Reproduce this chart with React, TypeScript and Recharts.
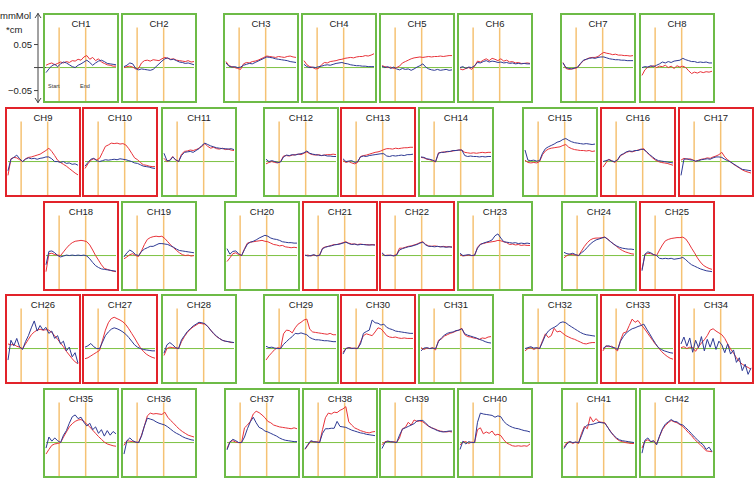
import { LineChart, Line, XAxis, YAxis, ReferenceLine } from 'recharts'

// time index of each sample, stimulus start / end marks
const TIME = [0, 1, 2, 3, 4, 5, 6, 7, 8, 9, 10, 11, 12, 13, 14, 15, 16, 17, 18, 19, 20, 21, 22, 23, 24]
const START_T = 4.5
const END_T = 13.6

// values in 0.01 mmMol*cm
const CH1_RED = [0.5, 0.8, 1.0, 0.6, 0.9, 1.2, 1.0, 1.3, 1.1, 1.5, 1.4, 1.8, 1.6, 2.3, 2.6, 1.8, 2.2, 1.5, 1.9, 1.2, 0.9, 0.6, 0.5, 0.3, 0.3]
const CH1_BLUE = [-1.1, -0.3, 0.4, 0.7, 0.2, 0.8, 1.2, 1.0, 0.6, 0.2, 0.0, 0.5, 0.8, 1.2, 1.6, 1.1, 0.5, 1.0, 1.4, 1.6, 1.3, 0.9, 0.8, 0.7, 0.6]
const CH2_RED = [0.0, 0.2, 0.3, 0.1, -0.3, -0.2, 1.0, 1.5, 1.6, 1.4, 1.7, 1.6, 1.5, 1.9, 2.2, 2.0, 1.8, 1.9, 1.6, 1.5, 1.4, 1.3, 1.5, 1.2, 1.3]
const CH2_BLUE = [0.2, 0.5, 1.0, 0.8, -0.2, -0.5, -0.3, -0.4, -0.5, -0.6, -0.4, 0.2, 0.8, 1.4, 1.9, 2.1, 1.7, 1.8, 1.5, 1.2, 1.1, 0.9, 1.0, 0.8, 0.6]
const CH3_RED = [1.3, 0.4, 0.2, 0.0, -0.2, -0.4, 0.8, 1.1, 1.0, 1.3, 1.4, 1.6, 1.9, 2.2, 2.5, 2.4, 2.3, 2.2, 2.4, 2.3, 2.2, 2.4, 2.5, 2.3, 2.2]
const CH3_BLUE = [1.0, 0.3, 0.1, 0.2, 0.0, 0.1, 0.5, 0.7, 0.9, 0.8, 1.1, 1.4, 1.7, 2.0, 2.3, 2.2, 2.1, 1.9, 1.8, 1.7, 1.6, 1.5, 1.3, 1.2, 1.1]
const CH4_RED = [1.5, 0.6, 0.2, 0.0, -0.3, -0.2, 0.6, 1.1, 1.0, 1.3, 1.4, 1.5, 1.7, 1.8, 2.0, 2.1, 2.2, 2.1, 2.3, 2.4, 2.4, 2.6, 2.5, 2.7, 3.0]
const CH4_BLUE = [0.7, 0.2, 0.0, 0.1, 0.0, 0.2, 0.3, 0.5, 0.6, 0.5, 0.7, 0.9, 1.0, 1.1, 0.9, 0.8, 0.6, 0.5, 0.4, 0.4, 0.3, 0.3, 0.2, 0.2, 0.2]
const CH5_RED = [0.4, 0.2, 0.0, 0.1, -0.2, 0.0, 0.3, 1.0, 1.3, 1.6, 1.9, 2.1, 2.2, 2.3, 2.2, 2.3, 2.4, 2.3, 2.4, 2.4, 2.5, 2.4, 2.5, 2.6, 2.6]
const CH5_BLUE = [0.3, 0.0, 0.2, -0.2, 0.1, -0.3, -0.5, -0.2, -0.4, -0.3, -0.6, -0.3, 0.1, 0.4, 0.8, 0.1, -0.3, -0.5, -0.6, -0.4, -0.6, -0.5, -0.4, -0.6, -0.5]
const CH6_RED = [-0.3, -0.5, -0.2, 0.0, -0.4, 0.3, 1.4, 1.2, 1.6, 1.9, 1.5, 2.0, 1.8, 1.5, 1.9, 1.4, 1.6, 1.2, 1.3, 1.0, 1.1, 0.9, 0.9, 1.0, 0.9]
const CH6_BLUE = [0.0, 0.2, -0.2, 0.1, 0.0, 0.4, 1.1, 1.0, 1.3, 1.5, 1.2, 1.4, 1.3, 1.1, 1.2, 1.0, 1.1, 0.9, 1.0, 0.8, 0.9, 0.8, 0.9, 0.8, 0.8]
const CH7_RED = [1.1, -0.2, -0.4, -0.3, -0.2, 0.0, 0.8, 1.5, 1.8, 2.1, 2.2, 2.2, 2.4, 2.9, 3.3, 3.1, 3.0, 2.8, 2.9, 2.7, 2.7, 2.6, 2.6, 2.5, 2.6]
const CH7_BLUE = [1.0, 0.0, -0.2, -0.3, -0.1, 0.1, 0.9, 1.6, 1.8, 2.0, 2.1, 2.0, 2.2, 2.3, 2.3, 2.1, 1.9, 1.8, 1.7, 1.7, 1.6, 1.6, 1.5, 1.5, 1.5]
const CH8_RED = [-1.7, -0.5, 0.1, 0.2, 0.4, 0.0, 0.3, 0.2, 0.5, 0.0, 0.3, -0.2, 0.4, 0.1, 0.3, 0.0, -0.7, -1.3, -1.0, -1.2, -0.9, -1.1, -0.9, -1.0, -0.8]
const CH8_BLUE = [0.0, 0.2, 0.1, 0.4, 0.2, 0.5, 0.8, 1.2, 1.0, 1.3, 1.1, 1.4, 1.5, 1.6, 2.0, 1.7, 1.5, 1.3, 1.3, 1.1, 1.2, 1.1, 1.2, 1.0, 1.0]
const CH9_RED = [-3.0, 0.6, 0.9, 0.8, 0.4, 0.0, 0.6, 0.9, 1.0, 1.2, 1.4, 1.6, 2.0, 2.4, 2.9, 2.2, 1.3, 0.3, -0.2, -0.6, -1.0, -1.5, -2.0, -2.5, -2.9]
const CH9_BLUE = [-2.0, 0.5, 0.9, 1.4, 0.6, 0.0, 0.5, 0.8, 0.6, 0.7, 0.5, 0.7, 0.8, 1.0, 1.0, 0.6, 0.0, 0.0, -0.2, 0.0, -0.4, -0.3, -0.6, -0.5, -0.8]
const CH10_RED = [-1.5, -0.5, 0.3, 0.6, 0.4, 0.7, 2.0, 3.3, 3.6, 4.0, 3.9, 4.0, 3.8, 3.9, 3.6, 2.8, 1.8, 0.8, 0.4, -0.2, -0.7, -0.8, -1.0, -1.1, -1.1]
const CH10_BLUE = [-1.0, -0.2, 0.5, 0.7, 0.2, 0.0, 0.2, 0.4, 0.3, 0.4, 0.5, 0.4, 0.6, 0.5, 0.4, 0.2, 0.0, -0.3, -0.4, -0.7, -1.0, -1.1, -1.2, -1.4, -1.5]
const CH11_RED = [0.7, 0.0, 0.3, 1.1, 0.3, 0.0, 1.6, 2.2, 2.3, 2.5, 2.4, 2.6, 2.9, 3.3, 3.9, 3.3, 2.9, 3.1, 2.8, 2.7, 2.9, 2.6, 2.7, 2.5, 2.4]
const CH11_BLUE = [1.8, 0.2, 0.2, 1.0, 0.4, 0.0, 1.3, 2.0, 2.1, 2.2, 2.0, 2.4, 2.8, 3.5, 4.0, 3.7, 3.4, 3.2, 3.0, 2.9, 2.8, 2.8, 2.7, 2.8, 2.6]
const CH12_RED = [-0.5, -0.2, 0.0, -0.2, -0.3, 0.0, 1.2, 1.3, 1.2, 1.4, 1.5, 1.6, 1.5, 1.8, 2.1, 1.7, 1.5, 1.4, 1.5, 1.3, 1.4, 1.5, 1.5, 1.6, 1.5]
const CH12_BLUE = [0.5, 0.0, 0.2, 0.0, -0.2, -0.1, 1.0, 1.4, 1.3, 1.5, 1.4, 1.6, 1.7, 1.9, 2.3, 1.8, 1.6, 1.5, 1.4, 1.3, 1.4, 1.2, 1.2, 1.1, 1.1]
const CH13_RED = [0.2, -0.2, 0.0, -0.3, -0.5, -0.2, 1.1, 1.3, 1.4, 1.6, 1.8, 2.0, 2.1, 2.3, 2.6, 2.8, 2.8, 2.7, 2.9, 2.8, 2.9, 3.0, 3.0, 3.1, 3.1]
const CH13_BLUE = [0.6, 0.0, 0.1, 0.2, -0.2, 0.0, 1.0, 1.2, 1.1, 1.3, 1.4, 1.5, 1.6, 1.7, 1.7, 1.2, 1.1, 1.3, 1.2, 1.3, 1.4, 1.3, 1.5, 1.5, 1.6]
const CH14_RED = [0.9, 0.8, 0.5, 0.4, 0.2, -0.1, 1.9, 2.0, 2.1, 2.1, 2.2, 2.3, 2.4, 2.5, 2.5, 2.0, 1.9, 1.8, 1.9, 1.8, 1.9, 2.0, 1.9, 2.0, 2.0]
const CH14_BLUE = [1.0, 0.9, 0.6, 0.5, 0.3, 0.0, 1.8, 2.0, 2.0, 2.2, 2.2, 2.4, 2.4, 2.5, 2.5, 1.3, 1.1, 1.2, 1.1, 1.1, 1.0, 1.1, 1.0, 1.1, 1.1]
const CH15_RED = [0.3, -0.2, -0.3, -0.2, -0.3, 0.0, 1.5, 2.3, 2.7, 2.9, 3.0, 3.1, 3.2, 3.5, 3.7, 3.1, 2.8, 2.6, 2.5, 2.4, 2.4, 2.3, 2.4, 2.2, 2.3]
const CH15_BLUE = [2.5, 0.3, 0.2, 0.3, 0.1, 0.2, 1.8, 2.8, 3.2, 3.5, 3.8, 4.2, 4.4, 4.8, 5.0, 4.6, 4.3, 4.1, 4.0, 3.9, 3.8, 3.9, 3.8, 3.7, 3.8]
const CH16_RED = [-1.2, -0.3, 0.5, 0.2, -0.2, 0.3, 1.3, 1.6, 2.0, 2.2, 2.1, 2.3, 2.5, 2.6, 2.8, 2.0, 1.4, 0.8, 0.3, 0.0, -0.2, -0.3, -0.4, -0.6, -0.8]
const CH16_BLUE = [0.0, 0.2, 0.4, 0.1, 0.0, 0.4, 1.4, 1.7, 2.1, 2.3, 2.2, 2.4, 2.4, 2.7, 2.6, 2.1, 1.5, 1.0, 0.5, 0.2, 0.1, 0.0, -0.1, -0.2, -0.3]
const CH17_RED = [0.3, 0.7, 0.5, 0.6, 0.4, 0.0, 0.3, 0.5, 0.6, 0.8, 0.7, 1.0, 1.2, 1.5, 2.0, 1.0, 0.4, -0.1, -0.6, -1.0, -1.4, -1.8, -2.1, -2.3, -2.5]
const CH17_BLUE = [-3.0, 0.5, 0.6, 0.4, 0.3, 0.1, 0.2, 0.4, 0.5, 0.6, 0.5, 0.8, 1.0, 1.0, 0.9, 0.5, 0.2, -0.1, -0.5, -0.9, -1.3, -1.7, -1.8, -1.9, -2.0]
const CH18_RED = [-3.5, 0.4, 0.5, 0.2, 0.1, 0.0, 0.8, 1.6, 2.3, 2.8, 3.1, 3.2, 3.3, 3.2, 3.0, 2.3, 1.2, 0.0, -1.0, -2.0, -2.8, -3.0, -3.2, -3.4, -3.5]
const CH18_BLUE = [-2.0, 0.9, 1.0, 0.6, 0.0, -0.3, -0.1, 0.1, 0.0, 0.1, 0.0, 0.1, 0.0, 0.1, -0.1, -0.7, -1.5, -2.2, -2.6, -2.9, -3.0, -3.1, -3.2, -3.3, -3.4]
const CH19_RED = [-0.7, -0.3, 0.2, 0.4, 0.0, -0.2, 1.0, 2.4, 3.5, 3.9, 4.1, 4.2, 4.1, 4.2, 3.7, 3.0, 2.3, 1.7, 1.1, 0.6, 0.2, 0.0, 0.1, -0.1, 0.0]
const CH19_BLUE = [-0.3, 0.6, 1.2, 0.8, 0.2, 0.0, 0.9, 1.4, 1.7, 2.0, 2.0, 2.3, 2.6, 2.6, 2.5, 2.4, 2.1, 1.8, 1.4, 1.1, 1.0, 0.9, 0.8, 0.7, 0.6]
const CH20_RED = [-1.3, -0.5, 0.4, 0.6, 0.2, 0.0, 1.5, 2.7, 2.9, 3.0, 3.1, 3.2, 3.3, 3.1, 3.0, 2.7, 2.4, 2.3, 2.1, 2.2, 1.9, 1.8, 1.7, 1.8, 1.7]
const CH20_BLUE = [1.5, 0.3, 0.9, 1.0, 0.4, 0.0, 1.3, 2.5, 2.9, 3.1, 3.4, 3.8, 4.1, 4.4, 4.2, 3.8, 3.6, 3.5, 3.3, 3.0, 2.9, 2.8, 2.8, 2.7, 2.7]
const CH21_RED = [0.0, 0.1, -0.1, 0.1, 0.0, 0.0, 1.6, 1.9, 2.0, 2.2, 2.4, 2.4, 2.6, 2.8, 3.0, 2.7, 2.5, 2.5, 2.4, 2.5, 2.4, 2.4, 2.3, 2.4, 2.3]
const CH21_BLUE = [0.1, -0.1, 0.0, 0.2, -0.1, 0.1, 1.5, 1.8, 2.0, 2.1, 2.3, 2.4, 2.5, 2.7, 2.9, 2.6, 2.4, 2.5, 2.3, 2.4, 2.4, 2.3, 2.3, 2.3, 2.3]
const CH22_RED = [0.4, 0.0, 0.1, 0.0, 0.0, 0.2, 1.6, 1.6, 1.8, 2.0, 2.1, 2.3, 2.5, 2.8, 3.0, 2.4, 2.1, 2.0, 2.1, 2.0, 1.9, 2.0, 1.9, 1.9, 1.9]
const CH22_BLUE = [0.6, 0.0, 0.0, 0.1, -0.1, 0.1, 1.2, 1.5, 1.7, 1.9, 2.0, 2.2, 2.4, 2.7, 2.9, 2.3, 2.0, 2.0, 1.9, 2.0, 1.9, 1.9, 1.8, 1.9, 1.8]
const CH23_RED = [0.2, -0.1, 0.0, 0.1, 0.0, 0.0, 1.8, 2.5, 2.6, 2.8, 2.9, 3.0, 3.1, 3.3, 3.2, 3.0, 2.8, 2.4, 2.5, 2.3, 2.4, 2.2, 2.3, 2.2, 2.2]
const CH23_BLUE = [0.5, 0.0, 0.1, 0.2, 0.0, 0.1, 1.6, 2.4, 2.7, 2.9, 3.1, 3.4, 4.3, 4.7, 3.8, 3.0, 2.9, 2.8, 2.7, 2.8, 2.6, 2.7, 2.6, 2.7, 2.6]
const CH24_RED = [-0.5, 0.0, 0.3, 0.2, 0.1, 0.0, 1.0, 2.0, 2.8, 3.4, 3.7, 3.8, 3.8, 3.9, 4.0, 3.6, 3.0, 2.5, 2.0, 1.5, 1.1, 0.8, 0.6, 0.4, 0.3]
const CH24_BLUE = [0.7, 0.4, 0.3, 0.5, 0.2, 0.0, 0.6, 1.1, 1.8, 2.5, 3.0, 3.4, 3.6, 3.8, 4.0, 3.5, 3.0, 2.5, 2.1, 1.8, 1.6, 1.5, 1.4, 1.4, 1.3]
const CH25_RED = [-3.0, 0.2, 0.5, 0.4, 0.2, 0.0, 1.2, 2.3, 3.2, 3.5, 3.7, 3.8, 3.9, 3.9, 4.0, 3.6, 2.7, 1.6, 0.6, -0.5, -1.4, -2.1, -2.5, -2.8, -3.0]
const CH25_BLUE = [-3.3, 0.3, 0.8, 0.6, 0.2, 0.0, -0.6, -0.7, -0.6, -0.7, -0.6, -0.8, -0.7, -0.6, -0.4, -0.9, -1.5, -2.0, -2.3, -2.6, -2.9, -3.1, -3.3, -3.4, -3.5]
const CH26_RED = [1.0, 0.8, 0.9, 0.5, 0.3, 0.0, 1.0, 2.0, 3.0, 3.6, 4.0, 4.2, 4.0, 4.1, 4.0, 3.5, 2.8, 2.0, 1.2, 0.4, -0.6, -1.4, -2.2, -2.9, -3.3]
const CH26_BLUE = [-2.5, 1.8, 0.6, 2.2, 0.3, -0.2, 1.5, 2.8, 4.5, 6.0, 3.8, 5.0, 4.0, 4.6, 3.3, 3.8, 2.2, 2.8, 1.0, 1.6, -0.5, 0.3, -1.8, -0.9, -3.2]
const CH27_RED = [-2.2, -2.0, -1.6, -1.2, -0.8, -0.4, 1.8, 4.0, 5.6, 6.5, 6.8, 6.5, 6.2, 5.8, 5.2, 4.3, 3.3, 2.3, 1.2, 0.2, -0.6, -1.2, -1.6, -1.9, -2.1]
const CH27_BLUE = [0.3, 0.6, 1.1, 0.4, 0.0, 0.0, 1.4, 2.8, 3.6, 4.2, 4.5, 4.3, 4.0, 3.6, 3.1, 2.4, 1.6, 0.8, 0.3, 0.0, -0.2, -0.3, -0.4, -0.5, -0.5]
const CH28_RED = [-1.5, 0.0, 0.3, 0.2, 0.1, 0.0, 1.5, 2.6, 3.5, 4.2, 4.7, 5.1, 5.5, 5.4, 5.3, 4.8, 4.0, 3.2, 2.6, 2.2, 1.8, 1.6, 1.5, 1.3, 1.3]
const CH28_BLUE = [-1.0, 0.8, 1.3, 0.8, 0.2, 0.0, 1.9, 2.8, 3.7, 4.3, 4.9, 5.3, 5.7, 5.6, 5.4, 4.8, 4.0, 3.3, 2.7, 2.2, 1.8, 1.6, 1.5, 1.4, 1.3]
const CH29_RED = [-2.5, -1.6, -0.9, -0.2, 0.2, 0.0, 3.2, 4.0, 3.9, 3.4, 4.5, 5.3, 5.7, 6.2, 6.4, 4.2, 3.6, 3.5, 3.4, 3.3, 3.2, 3.1, 3.3, 3.0, 3.0]
const CH29_BLUE = [0.5, 0.2, 0.3, 0.1, 0.0, 0.0, 0.9, 1.5, 2.1, 2.6, 3.3, 3.2, 3.4, 3.2, 3.0, 2.4, 2.1, 1.9, 1.9, 1.8, 1.7, 1.7, 1.6, 1.5, 1.5]
const CH30_RED = [-0.8, 0.0, 0.2, 0.1, 0.0, 0.0, 1.4, 2.8, 3.2, 3.0, 2.8, 3.6, 4.5, 4.3, 3.6, 2.8, 2.5, 2.4, 2.5, 2.3, 2.2, 2.3, 2.2, 2.2, 2.2]
const CH30_BLUE = [-1.2, 0.0, 0.2, 0.0, 0.1, 0.0, 1.0, 3.3, 3.7, 4.0, 6.2, 5.6, 5.5, 5.1, 5.3, 4.6, 4.3, 4.1, 3.8, 3.7, 3.6, 3.5, 3.4, 3.3, 3.3]
const CH31_RED = [0.2, -0.2, 0.1, 0.0, 0.2, -0.3, 1.8, 2.1, 2.7, 3.0, 3.3, 3.5, 3.8, 4.0, 4.4, 3.0, 2.6, 2.5, 2.3, 2.2, 2.0, 2.3, 2.2, 2.5, 2.6]
const CH31_BLUE = [-0.5, 0.1, 0.2, 0.0, 0.1, 0.0, 1.5, 2.3, 2.9, 3.3, 3.5, 3.6, 3.9, 4.0, 4.3, 3.2, 2.9, 2.7, 2.5, 2.3, 2.0, 1.8, 1.5, 1.3, 1.2]
const CH32_RED = [-0.5, 0.0, 0.2, -0.2, 0.1, 0.0, 1.7, 3.2, 2.4, 2.8, 4.4, 3.6, 3.8, 3.3, 2.8, 2.5, 2.2, 2.0, 1.7, 1.4, 1.1, 1.0, 1.2, 1.3, 1.3]
const CH32_BLUE = [0.0, 0.2, 0.4, 0.1, 0.2, 0.0, 1.4, 2.9, 3.8, 4.3, 4.6, 5.0, 5.6, 5.8, 5.6, 5.1, 4.7, 4.3, 3.9, 3.5, 3.2, 3.0, 2.9, 2.8, 2.7]
const CH33_RED = [-0.5, 0.6, 0.4, 0.5, 0.0, -0.5, 1.8, 3.4, 3.6, 5.0, 6.4, 5.7, 6.1, 5.2, 4.5, 3.6, 2.7, 1.8, 0.9, 0.2, -0.6, -1.2, -1.7, -2.1, -2.3]
const CH33_BLUE = [0.0, 0.5, 0.6, 0.3, 0.2, -0.2, 1.6, 2.6, 3.4, 3.9, 4.3, 4.5, 4.8, 5.0, 5.3, 4.2, 3.2, 2.1, 1.1, 0.2, -0.2, -0.5, -0.7, -0.9, -1.0]
const CH34_RED = [0.2, 0.4, 0.0, 0.3, 0.2, -0.6, 0.4, 1.2, 1.9, 2.8, 4.0, 4.3, 3.8, 3.4, 3.0, 2.2, 1.0, -0.1, -1.0, -2.0, -2.8, -3.4, -3.8, -4.1, -4.5]
const CH34_BLUE = [1.0, 2.5, 0.5, 2.3, -0.8, 1.8, 0.2, 2.6, -0.5, 2.0, 0.3, 2.2, -0.2, 1.6, 0.8, -0.9, 1.0, -1.2, -0.3, -3.0, -2.0, -4.8, -3.4, -5.6, -4.2]
const CH35_RED = [-2.5, -1.5, -0.6, -0.3, -0.2, 0.0, 1.2, 2.3, 3.4, 4.1, 4.6, 4.9, 5.0, 4.6, 4.0, 3.4, 2.7, 2.0, 1.3, 0.7, 0.1, -0.3, -0.5, -0.7, -0.8]
const CH35_BLUE = [-1.2, 1.2, 0.3, 1.0, 0.4, 0.0, 1.6, 2.6, 4.2, 5.6, 6.0, 5.2, 5.5, 4.4, 3.6, 4.2, 2.8, 3.4, 2.0, 2.8, 1.4, 2.6, 1.6, 2.4, 1.9]
const CH36_RED = [-0.6, 0.4, 0.3, 0.2, 0.1, 0.0, 1.6, 3.6, 5.8, 6.4, 6.2, 6.3, 6.2, 6.1, 6.6, 5.5, 4.8, 4.2, 3.5, 2.9, 2.4, 2.0, 1.6, 1.4, 1.2]
const CH36_BLUE = [-2.5, 0.4, 1.0, 0.4, 0.1, 0.0, 1.4, 3.6, 5.3, 5.1, 4.9, 4.5, 4.2, 4.0, 3.8, 3.4, 2.9, 2.4, 2.0, 1.7, 1.3, 1.0, 0.8, 0.6, 0.5]
const CH37_RED = [-1.3, 0.2, 0.4, 0.1, 0.0, 0.0, 3.2, 3.8, 4.6, 6.2, 6.8, 6.5, 6.0, 5.4, 4.6, 4.3, 3.8, 3.6, 3.4, 3.3, 3.2, 3.1, 3.0, 3.2, 3.0]
const CH37_BLUE = [-1.6, 0.1, 0.7, 0.4, 0.0, 0.0, 1.2, 3.0, 4.5, 5.5, 4.3, 3.3, 3.0, 2.5, 2.3, 2.0, 1.7, 1.4, 1.0, 0.7, 0.5, 0.4, 0.3, 0.2, 0.2]
const CH38_RED = [-1.5, -0.6, 0.3, 0.1, 0.2, 0.0, 2.8, 5.4, 6.4, 6.2, 6.6, 6.5, 7.0, 7.3, 7.8, 4.5, 3.8, 3.2, 2.9, 2.6, 2.4, 2.2, 2.1, 2.3, 2.4]
const CH38_BLUE = [-1.4, -0.4, 0.4, 0.2, 0.1, 0.0, 2.0, 3.0, 3.0, 3.1, 3.1, 4.6, 3.5, 3.4, 3.3, 3.0, 2.7, 2.5, 2.3, 2.1, 2.0, 1.8, 1.7, 1.6, 1.5]
const CH39_RED = [-0.5, 0.2, 0.3, 0.1, 0.2, 0.0, 1.0, 3.0, 3.3, 4.4, 3.8, 4.9, 4.6, 4.7, 4.5, 4.0, 3.5, 3.2, 3.0, 2.7, 2.5, 2.4, 2.3, 2.4, 2.3]
const CH39_BLUE = [-1.3, 0.0, 0.3, 0.2, 0.1, 0.0, 1.6, 2.9, 3.2, 3.5, 3.8, 4.1, 4.7, 4.8, 4.8, 4.2, 3.6, 3.2, 2.9, 2.6, 2.4, 2.3, 2.4, 2.5, 2.5]
const CH40_RED = [-0.5, 0.1, 0.2, -0.2, 0.1, 0.0, 2.8, 3.2, 1.9, 2.3, 2.0, 2.5, 1.6, 1.8, 1.5, 0.6, -0.1, -0.4, -0.7, -0.8, -0.7, -0.8, -0.7, -0.8, -0.3]
const CH40_BLUE = [-1.5, 0.3, -0.3, 0.2, 0.0, 0.0, 4.4, 6.4, 6.2, 6.1, 6.0, 5.9, 5.5, 5.8, 5.6, 4.6, 4.0, 3.6, 3.3, 3.1, 3.0, 2.8, 2.6, 2.5, 2.3]
const CH41_RED = [-1.0, 0.0, 0.2, -0.2, 0.1, -0.2, 2.0, 3.5, 3.0, 5.6, 4.5, 5.2, 4.5, 4.4, 4.3, 3.3, 2.4, 1.5, 0.8, 0.4, 0.2, 0.0, -0.1, -0.2, -0.2]
const CH41_BLUE = [-1.3, -0.3, 0.2, 0.0, 0.1, 0.0, 1.5, 3.2, 3.8, 3.9, 4.0, 4.2, 4.4, 4.3, 4.2, 3.3, 2.3, 1.6, 1.0, 0.6, 0.4, 0.3, 0.2, 0.1, 0.0]
const CH42_RED = [-1.2, 0.3, 0.6, 0.2, 0.3, -0.3, 1.3, 2.8, 3.7, 4.3, 4.8, 4.5, 4.3, 3.9, 3.5, 2.8, 2.1, 1.5, 0.7, 0.1, -0.5, -1.1, -1.8, -1.9, -2.0]
const CH42_BLUE = [-2.3, 0.5, 1.0, 0.2, 0.4, -0.5, 1.4, 3.0, 4.0, 4.5, 5.0, 4.6, 4.5, 4.0, 3.8, 3.2, 2.6, 1.9, 1.2, 0.6, 0.0, -0.5, -1.5, -1.0, -2.0]

const RED_SERIES = [
  CH1_RED, CH2_RED, CH3_RED, CH4_RED, CH5_RED, CH6_RED, CH7_RED, CH8_RED, CH9_RED, CH10_RED,
  CH11_RED, CH12_RED, CH13_RED, CH14_RED, CH15_RED, CH16_RED, CH17_RED, CH18_RED, CH19_RED, CH20_RED,
  CH21_RED, CH22_RED, CH23_RED, CH24_RED, CH25_RED, CH26_RED, CH27_RED, CH28_RED, CH29_RED, CH30_RED,
  CH31_RED, CH32_RED, CH33_RED, CH34_RED, CH35_RED, CH36_RED, CH37_RED, CH38_RED, CH39_RED, CH40_RED,
  CH41_RED, CH42_RED,
]
const BLUE_SERIES = [
  CH1_BLUE, CH2_BLUE, CH3_BLUE, CH4_BLUE, CH5_BLUE, CH6_BLUE, CH7_BLUE, CH8_BLUE, CH9_BLUE, CH10_BLUE,
  CH11_BLUE, CH12_BLUE, CH13_BLUE, CH14_BLUE, CH15_BLUE, CH16_BLUE, CH17_BLUE, CH18_BLUE, CH19_BLUE, CH20_BLUE,
  CH21_BLUE, CH22_BLUE, CH23_BLUE, CH24_BLUE, CH25_BLUE, CH26_BLUE, CH27_BLUE, CH28_BLUE, CH29_BLUE, CH30_BLUE,
  CH31_BLUE, CH32_BLUE, CH33_BLUE, CH34_BLUE, CH35_BLUE, CH36_BLUE, CH37_BLUE, CH38_BLUE, CH39_BLUE, CH40_BLUE,
  CH41_BLUE, CH42_BLUE,
]

// channels outlined in red
const FLAGGED = [9, 10, 13, 16, 17, 18, 21, 22, 25, 26, 27, 30, 33, 34]

// scale axis ticks (0.01 mmMol*cm)
const SCALE_TICKS = [-5, 0, 5]

// panel placement: [left, top] per channel, in page pixels
const LAYOUT = [
  [43, 13], [121, 13], [223, 13], [301, 13], [379, 13], [457, 13], [560, 13], [639, 13],
  [5, 107], [82, 107], [161, 107], [263, 107], [340, 107], [418, 107], [522, 107], [600, 107], [678, 107],
  [43, 201], [121, 201], [224, 201], [302, 201], [379, 201], [457, 201], [561, 201], [639, 201],
  [5, 294], [82, 294], [161, 294], [263, 294], [340, 294], [418, 294], [522, 294], [600, 294], [678, 294],
  [43, 388], [121, 388], [224, 388], [302, 388], [379, 388], [457, 388], [561, 388], [639, 388],
]

const W = 76
const H = 90
const Y_DOMAIN = [-7.7, 11.85]
const MARK_TOP = 8.7
const FONT = '"Liberation Sans", Arial, sans-serif'
const GREEN = '#6dbb47'
const RED_BOX = '#e2232a'
const BASE = '#7cc242'
const ORANGE = '#f5c274'
const RED = '#e8333a'
const BLUE = '#2e3a94'

function Panel({ idx }: { idx: number }) {
  const red = RED_SERIES[idx]
  const blue = BLUE_SERIES[idx]
  const [left, top] = LAYOUT[idx]
  const ch = idx + 1
  const rows = TIME.map((t, i) => ({ t, red: red[i], blue: blue[i] }))
  const border = FLAGGED.includes(ch) ? RED_BOX : GREEN
  return (
    <div style={{ position: 'absolute', left, top, width: W, height: H }}>
      <LineChart width={W} height={H} data={rows} margin={{ top: 0, right: 3, bottom: 0, left: 3 }}>
        <XAxis type="number" dataKey="t" domain={[0, 24]} hide />
        <YAxis type="number" domain={Y_DOMAIN} hide allowDataOverflow />
        <ReferenceLine segment={[{ x: 0, y: 0 }, { x: 24, y: 0 }]} stroke={BASE} strokeWidth={1} />
        <ReferenceLine segment={[{ x: START_T, y: MARK_TOP }, { x: START_T, y: Y_DOMAIN[0] }]} stroke={ORANGE} strokeWidth={1.5} />
        <ReferenceLine segment={[{ x: END_T, y: MARK_TOP }, { x: END_T, y: Y_DOMAIN[0] }]} stroke={ORANGE} strokeWidth={1.5} />
        <Line dataKey="red" stroke={RED} strokeWidth={1} dot={false} isAnimationActive={false} />
        <Line dataKey="blue" stroke={BLUE} strokeWidth={1} dot={false} isAnimationActive={false} />
      </LineChart>
      <div style={{
        position: 'absolute', left: 0, top: 0, width: W, height: H, boxSizing: 'border-box',
        border: `2px solid ${border}`, pointerEvents: 'none',
      }} />
      <div style={{
        position: 'absolute', left: 0, top: 5, width: W, textAlign: 'center',
        fontFamily: FONT, fontSize: 9.5, lineHeight: '12px', color: '#222',
      }}>CH{ch}</div>
      {ch === 1 && (
        <>
          <div style={{ position: 'absolute', left: 5, top: 70, fontFamily: FONT, fontSize: 5.5, color: '#333' }}>Start</div>
          <div style={{ position: 'absolute', left: 37, top: 70, fontFamily: FONT, fontSize: 5.5, color: '#333' }}>End</div>
        </>
      )}
    </div>
  )
}

function ScaleAxis() {
  const rows = TIME.map((t) => ({ t }))
  return (
    <div style={{ position: 'absolute', left: 0, top: 13, width: 46, height: H }}>
      <LineChart width={46} height={H} data={rows} margin={{ top: 0, right: 0, bottom: 0, left: 0 }}>
        <XAxis type="number" dataKey="t" domain={[0, 24]} hide />
        <YAxis
          type="number" domain={Y_DOMAIN} ticks={SCALE_TICKS} width={38} allowDataOverflow
          axisLine={{ stroke: '#444' }} tickLine={{ stroke: '#444' }} tickSize={4}
          tick={{ fill: '#222', fontSize: 9.5, fontFamily: FONT }}
          tickFormatter={(v: number) => (v === 0 ? '' : (v / 100).toFixed(2).replace('-', '\u2212'))}
        />
        <ReferenceLine y={0} stroke="#444" strokeWidth={1} />
      </LineChart>
      <svg width={46} height={H} style={{ position: 'absolute', left: 0, top: 0, pointerEvents: 'none' }}>
        <path d="M35 5 L38 0.5 L41 5" fill="none" stroke="#444" strokeWidth={1} />
        <path d="M35 85 L38 89.5 L41 85" fill="none" stroke="#444" strokeWidth={1} />
      </svg>
    </div>
  )
}

export default function App() {
  return (
    <div style={{ position: 'absolute', left: 0, top: 0, width: 756, height: 481, background: '#fff', overflow: 'hidden' }}>
      <div style={{ position: 'absolute', left: 0, top: 10, fontFamily: FONT, fontSize: 9.5, color: '#222' }}>mmMol</div>
      <div style={{ position: 'absolute', left: 6, top: 24, fontFamily: FONT, fontSize: 9.5, color: '#222' }}>*cm</div>
      <ScaleAxis />
      {LAYOUT.map((_, i) => (
        <Panel key={i} idx={i} />
      ))}
    </div>
  )
}
